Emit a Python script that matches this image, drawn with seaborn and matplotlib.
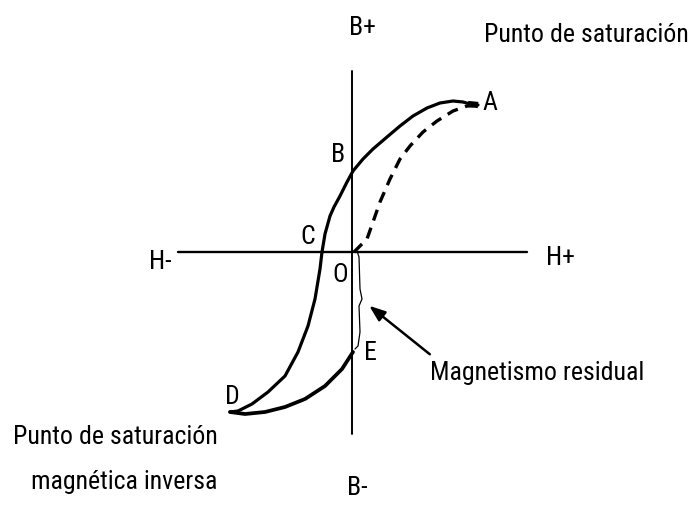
import seaborn as sns
import pandas as pd
import numpy as np
import matplotlib.pyplot as plt
from matplotlib import font_manager

# curva de histeresis, coordenadas con origen en O (H horizontal, B vertical)
upper_h = [126, 118, 111, 101, 88, 75, 61, 48, 35, 21, 11, 1, -5, -12, -18, -22, -27, -30,
           -32, -37, -44, -54, -67, -84, -100, -114, -122]
upper_b = [147, 148, 150, 151, 149, 144, 136, 126, 115, 103, 93, 81, 70, 56, 45, 36, 18, 0,
           -17, -47, -74, -100, -124, -140, -152, -159, -160]

lower_h = [-122, -107, -87, -67, -47, -27, -10, 1]
lower_b = [-160, -162, -160, -155, -147, -134, -117, -100]

first_h = [2, 15, 21, 28, 38, 48, 58, 71, 85, 101, 115, 126]
first_b = [0, 13, 30, 50, 73, 93, 106, 120, 131, 141, 146, 147]

brace_h = [5, 7, 8, 10, 7, 8, 6, 3]
brace_b = [1, -5, -37, -47, -54, -80, -94, -97]

axis_h = [-174, 175]
axis_b = [-182, 181]

sns.set_theme(style="white")
installed = {f.name for f in font_manager.fontManager.ttflist}
narrow = True
for fam in ['Liberation Sans Narrow', 'DejaVu Sans Condensed', 'Roboto Condensed']:
    if fam in installed:
        break
else:
    fam = 'Liberation Sans'
    narrow = False
plt.rcParams['font.family'] = [fam, 'DejaVu Sans']
fs = 18.6 if narrow else 16.5

fig = plt.figure(figsize=(6.92, 5.06), dpi=100)
ax = fig.add_axes([0, 0, 1, 1])

# ejes H y B
ax.plot(axis_h, [0, 0], color='black', lw=1.7)
ax.plot([0, 0], axis_b, color='black', lw=1.4)

up = pd.DataFrame({'H': upper_h, 'B': upper_b})
low = pd.DataFrame({'H': lower_h, 'B': lower_b})
first = pd.DataFrame({'H': first_h, 'B': first_b})
sns.lineplot(data=up, x='H', y='B', sort=False, estimator=None, color='black', lw=2.3, ax=ax)
sns.lineplot(data=low, x='H', y='B', sort=False, estimator=None, color='black', lw=2.7, ax=ax)
sns.lineplot(data=first, x='H', y='B', sort=False, estimator=None, color='black', lw=2.4,
             ax=ax, linestyle=(0, (3.4, 2.3)))
sns.lineplot(x=brace_h, y=brace_b, sort=False, estimator=None, color='black', lw=0.9, ax=ax)
# punto A engrosado
ax.plot([116, 126], [148, 147], color='black', lw=4.5, solid_capstyle='butt')

ax.annotate('', xy=(15, -52), xytext=(80, -104),
            arrowprops=dict(arrowstyle='-|>,head_length=0.8,head_width=0.3', color='black', lw=1.8))

tk = dict(fontsize=fs, ha='center', va='center', color='black')
ax.text(10, 225, 'B+', **tk)
ax.text(5, -235, 'B-', **tk)
ax.text(-192, -9, 'H-', **tk)
ax.text(208, -5, 'H+', **tk)
ax.text(234, 218, 'Punto de saturación', **tk)
ax.text(138, 150, 'A', **tk)
ax.text(-14, 98, 'B', **tk)
ax.text(-44, 16, 'C', **tk)
ax.text(-12, -22, 'O', **tk)
ax.text(18, -100, 'E', **tk)
ax.text(-120, -144, 'D', **tk)
ax.text(185, -120, 'Magnetismo residual', **tk)
ax.text(-237, -184, 'Punto de saturación', **tk)
ax.text(-228, -229, 'magnética inversa', **tk)

ax.set_xlim(-352, 340)
ax.set_ylim(-253, 253)
ax.set_xlabel('')
ax.set_ylabel('')
ax.axis('off')

plt.savefig('out.png', dpi=100)
